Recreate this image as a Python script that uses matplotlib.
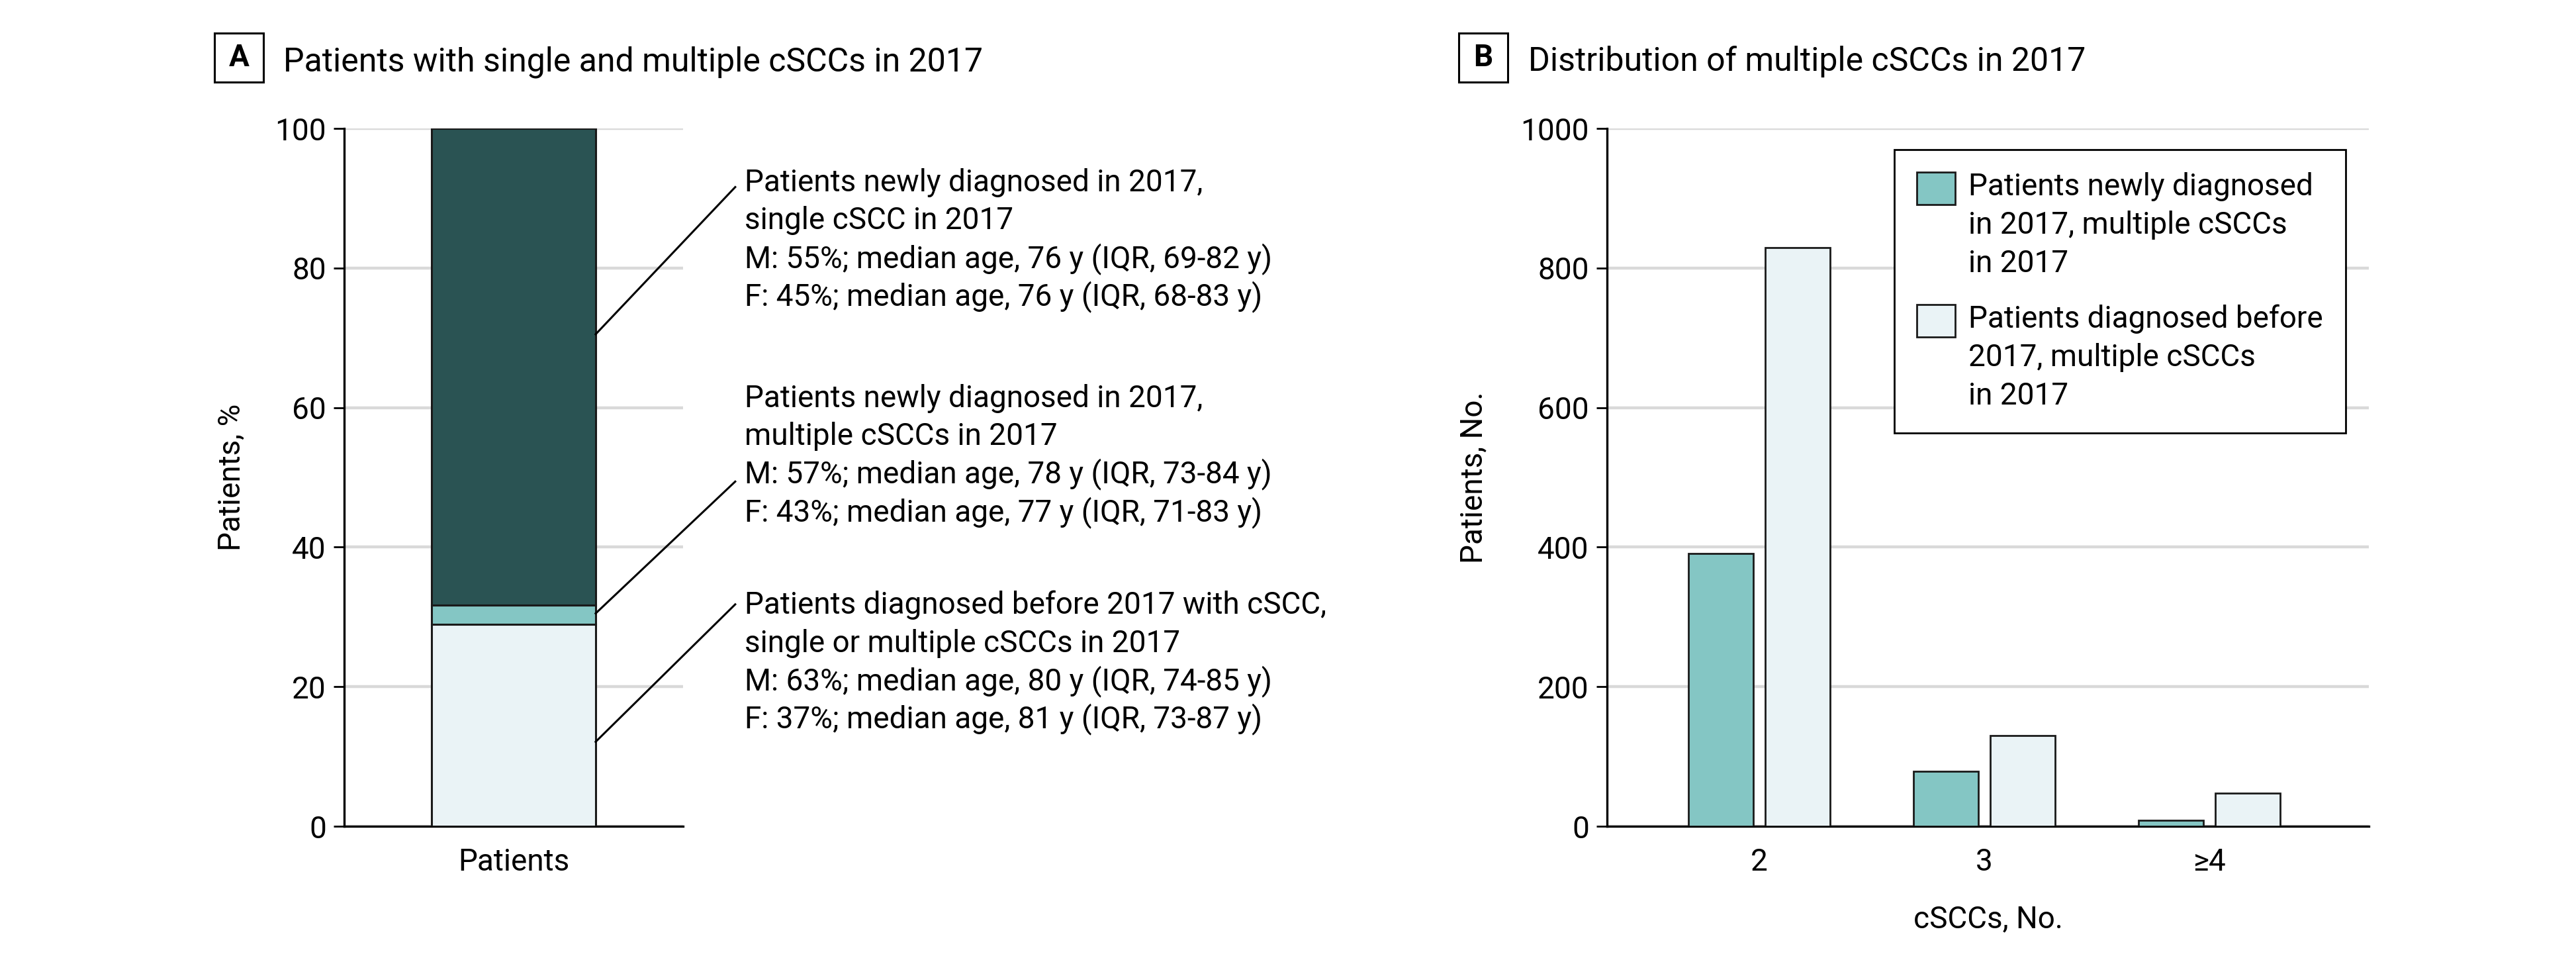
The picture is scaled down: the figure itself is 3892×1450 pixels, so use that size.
import matplotlib
matplotlib.use("Agg")
import numpy as np
import matplotlib.pyplot as plt
from matplotlib.patches import Rectangle, Patch
from matplotlib.legend_handler import HandlerPatch

plt.rcParams['font.family'] = ['Roboto', 'DejaVu Sans']

# ---------------- data ----------------
# Panel A: stacked percentages (bottom to top)
categories_a = ['Patients']
segment_names = ['Patients diagnosed before 2017',
                 'Patients newly diagnosed in 2017, multiple cSCCs',
                 'Patients newly diagnosed in 2017, single cSCC']
segment_values = [28.9, 2.8, 68.3]
segment_colors = ['#eaf3f6', '#84c6c4', '#2a5353']

annot_block_single = ['Patients newly diagnosed in 2017,',
                      'single cSCC in 2017',
                      'M: 55%; median age, 76 y (IQR, 69-82 y)',
                      'F: 45%; median age, 76 y (IQR, 68-83 y)']
annot_block_multi = ['Patients newly diagnosed in 2017,',
                     'multiple cSCCs in 2017',
                     'M: 57%; median age, 78 y (IQR, 73-84 y)',
                     'F: 43%; median age, 77 y (IQR, 71-83 y)']
annot_block_before = ['Patients diagnosed before 2017 with cSCC,',
                      'single or multiple cSCCs in 2017',
                      'M: 63%; median age, 80 y (IQR, 74-85 y)',
                      'F: 37%; median age, 81 y (IQR, 73-87 y)']

# Panel B: counts
cscc_categories = ['2', '3', '\u22654']
new_2017_multiple = [391, 79, 8.5]
before_2017_multiple = [829, 130, 47]
legend_labels = ['Patients newly diagnosed\nin 2017, multiple cSCCs\nin 2017',
                 'Patients diagnosed before\n2017, multiple cSCCs\nin 2017']

# ---------------- figure ----------------
W, H = 3892, 1450
fig = plt.figure(figsize=(W / 200, H / 200), dpi=200)
FS = 16.5

def fx(px):
    return px / W

def fy(py):
    return 1 - py / H

ax_bottom = fy(1248)
ax_height = 1054 / H
axA = fig.add_axes([fx(520), ax_bottom, 512 / W, ax_height])
axB = fig.add_axes([fx(2428), ax_bottom, 1151 / W, ax_height])

GRID = '#d9d9d9'

def style_axes(ax):
    for s in ['top', 'right']:
        ax.spines[s].set_visible(False)
    ax.spines['left'].set_linewidth(1.2)
    ax.spines['bottom'].set_linewidth(1.2)
    ax.spines['left'].set_color('black')
    ax.spines['bottom'].set_color('black')
    ax.set_axisbelow(True)
    ax.yaxis.grid(True, color=GRID, linewidth=1.6)
    ax.xaxis.grid(False)
    ax.tick_params(axis='y', length=5.8, width=1.0, pad=4, labelsize=FS, color='black')
    ax.tick_params(axis='x', length=0, pad=11.5, labelsize=FS)

# ---------------- Panel A ----------------
style_axes(axA)
bar_w_a = 0.484
bottom = 0.0
for val, col, name in zip(segment_values, segment_colors, segment_names):
    axA.bar(0, val, bottom=bottom, width=bar_w_a, color=col, edgecolor='#1a1a1a',
            linewidth=1.1, label=name, zorder=3)
    bottom += val
axA.set_xlim(-0.5, 0.5)
axA.set_ylim(0, 100)
axA.set_yticks(np.arange(0, 101, 20))
axA.set_xticks([0])
axA.set_xticklabels(categories_a)
axA.set_ylabel('Patients, %', fontsize=FS)
axA.yaxis.set_label_coords(-0.29, 0.5)

# leader lines and annotation blocks
bar_edge = bar_w_a / 2
line_end_x = 0.654
text_x = 0.682
line_pitch = 5.46
blocks = [
    (annot_block_single, 70.5, 91.6, 91.0),
    (annot_block_multi, 30.5, 49.4, 60.1),
    (annot_block_before, 12.1, 31.8, 30.45),
]
for lines, y_start, y_end, y_base in blocks:
    axA.plot([bar_edge, line_end_x], [y_start, y_end], color='black', lw=1.1,
             clip_on=False, zorder=4)
    for i, ln in enumerate(lines):
        axA.text(text_x, y_base - i * line_pitch, ln, fontsize=FS, ha='left',
                 va='baseline', clip_on=False)

# ---------------- Panel B ----------------
style_axes(axB)
x = np.arange(len(cscc_categories))
bw = 0.289
off = 0.17
axB.bar(x - off, new_2017_multiple, width=bw, color='#84c6c4', edgecolor='#1a1a1a',
        linewidth=1.0, zorder=3, label=legend_labels[0])
axB.bar(x + off, before_2017_multiple, width=bw, color='#eaf3f6', edgecolor='#1a1a1a',
        linewidth=1.0, zorder=3, label=legend_labels[1])
axB.set_xlim(-0.676, 2.709)
axB.set_ylim(0, 1000)
axB.set_yticks(np.arange(0, 1001, 200))
axB.set_xticks(x)
axB.set_xticklabels(cscc_categories)
axB.set_ylabel('Patients, No.', fontsize=FS)
axB.yaxis.set_label_coords(-0.156, 0.5)
axB.set_xlabel('cSCCs, No.', fontsize=FS)
axB.xaxis.set_label_coords(0.5, -0.112)


class TopPatchHandler(HandlerPatch):
    def __init__(self, shift, **kw):
        super().__init__(**kw)
        self.shift = shift

    def create_artists(self, legend, orig_handle, xdescent, ydescent, width,
                       height, fontsize, trans):
        p = Rectangle((-xdescent, -ydescent + self.shift), width, height)
        self.update_prop(p, orig_handle, legend)
        p.set_transform(trans)
        return [p]


handles = [Patch(facecolor='#84c6c4', edgecolor='#1a1a1a', linewidth=1.0),
           Patch(facecolor='#eaf3f6', edgecolor='#1a1a1a', linewidth=1.0)]
h = TopPatchHandler(shift=20.7)
leg = axB.legend(handles, legend_labels, loc='upper left', bbox_to_anchor=(0.377, 0.970),
                 borderaxespad=0, fontsize=FS, handlelength=1.27, handleheight=1.27,
                 handletextpad=0.44, borderpad=0.74, labelspacing=0.88,
                 fancybox=False, framealpha=1, edgecolor='black',
                 handler_map={Patch: h})
leg.get_frame().set_linewidth(1.0)
for t in leg.get_texts():
    t.set_linespacing(1.4)

# ---------------- Panel titles ----------------
for letter, box_left, title_x, title in [
        ('A', 324, 428, 'Patients with single and multiple cSCCs in 2017'),
        ('B', 2204, 2309, 'Distribution of multiple cSCCs in 2017')]:
    fig.add_artist(Rectangle((fx(box_left), fy(124)), 74 / W, 74 / H,
                             transform=fig.transFigure, fill=False,
                             edgecolor='black', linewidth=1.1))
    fig.text(fx(box_left + 37), fy(87), letter, fontsize=FS, fontweight='bold',
             ha='center', va='center')
    fig.text(fx(title_x), fy(107), title, fontsize=18, ha='left', va='baseline')

fig.savefig('out.png', dpi=200, facecolor='white')
